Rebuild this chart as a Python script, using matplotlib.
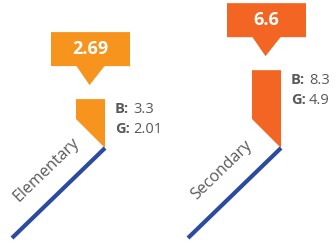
import matplotlib.pyplot as plt
from matplotlib.patches import Polygon

categories = ['Elementary', 'Secondary']
totals = [2.69, 6.6]
boys = [3.3, 8.3]
girls = [2.01, 4.9]
bar_colors = ['#F7941D', '#F26522']

plt.rcParams['font.family'] = ['Open Sans', 'DejaVu Sans']

fig = plt.figure(figsize=(3.36, 2.44), dpi=100)
ax = fig.add_axes([0, 0, 1, 1])
ax.set_xlim(0, 336)
ax.set_ylim(244, 0)
ax.axis('off')

# layout (pixel units)
x_right = [105, 281]
base = 148
bar_w = 29
k = 7.4          # px per unit of value
line_dx, line_dy = 93, 90
box_w, box_h = 79, 34
gray = '#595959'

for i, cat in enumerate(categories):
    xr = x_right[i]
    xl = xr - bar_w
    top = base - bar_w - k * totals[i]
    c = bar_colors[i]
    # bar with chamfered bottom-left corner
    ax.add_patch(Polygon([(xl, top), (xr, top), (xr, base), (xl, base - bar_w)],
                         closed=True, fc=c, ec='none'))
    # blue diagonal baseline
    ax.plot([xr, xr - line_dx], [base, base + line_dy], color='#2B4BA0',
            lw=3.0, solid_capstyle='butt')
    # callout box with pointer
    cx = xr - bar_w / 2
    b_bot = top - 33
    ax.add_patch(Polygon([(cx - box_w / 2, b_bot - box_h), (cx + box_w / 2, b_bot - box_h),
                          (cx + box_w / 2, b_bot), (cx + 14, b_bot), (cx - 1, b_bot + 19),
                          (cx - 14, b_bot), (cx - box_w / 2, b_bot)],
                         closed=True, fc=c, ec='none'))
    ax.text(cx, b_bot - box_h / 2, f'{totals[i]:g}', color='white', fontsize=13,
            fontweight='bold', ha='center', va='center')
    # boys / girls
    tx = xr + 10
    ax.text(tx, top + 10, 'B:', color=gray, fontsize=10.5, fontweight='bold', ha='left', va='center')
    ax.text(tx + 18, top + 10, f'{boys[i]:g}', color=gray, fontsize=10.5, ha='left', va='center')
    ax.text(tx, top + 30, 'G:', color=gray, fontsize=10.5, fontweight='bold', ha='left', va='center')
    ax.text(tx + 18, top + 30, f'{girls[i]:g}', color=gray, fontsize=10.5, ha='left', va='center')
    # category label along the line
    ax.text(xr - 59, base + 22, cat, color=gray, fontsize=11.5, rotation=44,
            rotation_mode='anchor', ha='center', va='center')

fig.savefig('out.png', dpi=100)
